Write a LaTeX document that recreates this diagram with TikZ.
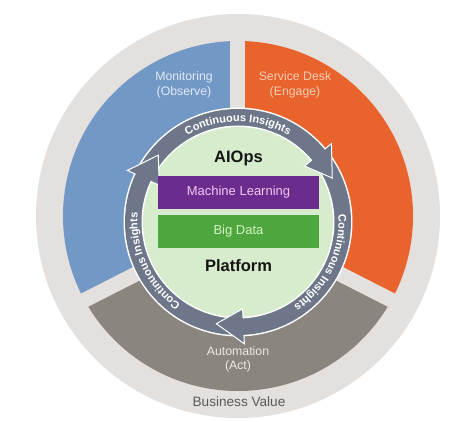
\documentclass[tikz,border=0pt]{standalone}
\usepackage{fontspec}
\setmainfont{Liberation Sans}
\usetikzlibrary{
  positioning,
  decorations.text,
}
\definecolor{ringgrey}{HTML}{E4E0DD}
\definecolor{monblue}{HTML}{7298C6}
\definecolor{deskorange}{HTML}{E8642C}
\definecolor{actgrey}{HTML}{8A857F}
\definecolor{slate}{HTML}{6D7789}
\definecolor{aigreen}{HTML}{D6ECCD}
\definecolor{mlpurple}{HTML}{6B2C8E}
\definecolor{bdgreen}{HTML}{4EA63E}
\definecolor{montext}{HTML}{E2EAF5}
\definecolor{desktext}{HTML}{F8CDB5}
\definecolor{acttext}{HTML}{ECE8E4}
\definecolor{mltext}{HTML}{F2C9F0}
\definecolor{bdtext}{HTML}{D5F5C0}
\definecolor{valuetext}{HTML}{5A5A5A}
\definecolor{titleblack}{HTML}{151515}
\tikzstyle{segtext} = [
  align=center,
  font=\fontsize{12.3}{14.5}\selectfont,
]
\tikzstyle{layerbox} = [
  minimum width=161pt,
  minimum height=33.5pt,
  inner sep=0pt,
  font=\fontsize{13}{15}\selectfont,
]
\tikzstyle{aititle} = [
  inner sep=0pt,
  font=\bfseries\fontsize{16.5}{19}\selectfont,
  text=titleblack,
]
\tikzstyle{gapline} = [ringgrey, line width=15pt]
\tikzstyle{ringhead} = [fill=slate, draw=white, line width=1pt, line join=miter]
\tikzstyle{insighttext} = [
  decorate,
  decoration={
    text along path,
    text align=center,
    text={|\bfseries\fontsize{11}{12}\selectfont\color{white}|Continuous Insights},
  },
]

\begin{document}
\begin{tikzpicture}[x=1pt, y=1pt]
    \useasboundingbox (-238,-200) rectangle (236,222);

    % business value ring
    \fill[ringgrey] (0,6) circle (202);

    % three segments
    \begin{scope}
        \clip (0,6) circle (175);
        \fill[monblue] (0,0) -- (90:260) arc[start angle=90, end angle=207, radius=260] -- cycle;
        \fill[deskorange] (0,0) -- (-27:260) arc[start angle=-27, end angle=90, radius=260] -- cycle;
        \fill[actgrey] (0,0) -- (207:260) arc[start angle=207, end angle=333, radius=260] -- cycle;
    \end{scope}
    \draw[gapline] (0,0) -- (90:185);
    \draw[gapline] (0,0) -- (207:185);
    \draw[gapline] (0,0) -- (333:185);

    \node[segtext, text=montext] (monitoring) at (-54,137) {Monitoring\\(Observe)};
    \node[segtext, text=desktext] (servicedesk) at (57,137) {Service Desk\\(Engage)};
    \node[segtext, text=acttext] (automation) at (0,-137.5) {Automation\\(Act)};
    \node[font=\fontsize{13.6}{16}\selectfont, text=valuetext] (value) at (1,-180) {Business Value};

    % insights ring
    \fill[white] (0,0) circle (114.5);
    \fill[slate] (0,0) circle (113);
    \fill[white] (0,0) circle (96.5);
    \fill[aigreen] (0,0) circle (95);

    \filldraw[ringhead] (40:113) -- (40:122) -- (25:104) -- (40:87) -- (40:96.5);
    \filldraw[ringhead] (155:113) -- (155:122) -- (140:104) -- (155:87) -- (155:96.5);
    \filldraw[ringhead] (273:113) -- (273:122) -- (258:104) -- (273:87) -- (273:96.5);

    \path[insighttext] (130:100.5) arc[start angle=130, end angle=50, radius=100.5];
    \path[insighttext] (14:100.5) arc[start angle=14, end angle=-66, radius=100.5];
    \path[insighttext] (245:100.5) arc[start angle=245, end angle=165, radius=100.5];

    % platform
    \node[layerbox, fill=mlpurple, text=mltext] (ml) at (0.5,29.5) {Machine Learning};
    \node[layerbox, fill=bdgreen, text=bdtext, below=5pt of ml] (bigdata) {Big Data};
    \node[aititle, above=9.5pt of ml] (aiops) {AIOps};
    \node[aititle, below=11pt of bigdata] (platform) {Platform};

\end{tikzpicture}
\end{document}
